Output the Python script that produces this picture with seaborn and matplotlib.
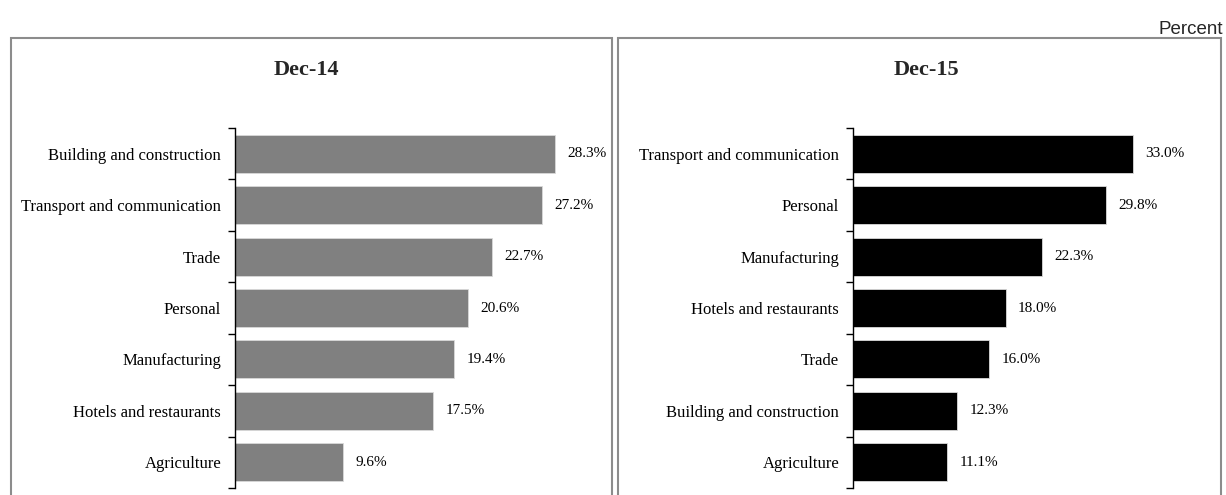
import numpy as np
import pandas as pd
import matplotlib
matplotlib.use("Agg")
import matplotlib.pyplot as plt
import seaborn as sns
from matplotlib.patches import Rectangle

# data
sectors_14 = ["Building and construction", "Transport and communication", "Trade",
              "Personal", "Manufacturing", "Hotels and restaurants", "Agriculture"]
values_14 = [28.3, 27.2, 22.7, 20.6, 19.4, 17.5, 9.6]

sectors_15 = ["Transport and communication", "Personal", "Manufacturing",
              "Hotels and restaurants", "Trade", "Building and construction", "Agriculture"]
values_15 = [33.0, 29.8, 22.3, 18.0, 16.0, 12.3, 11.1]

sns.set_theme(style="white")
plt.rcParams["font.family"] = ["Liberation Serif", "DejaVu Serif"]

W, H = 1226, 495
fig = plt.figure(figsize=(W / 100, H / 100), dpi=100)


def px_axes(x0, x1, y0, y1):
    return fig.add_axes([x0 / W, 1 - y1 / H, (x1 - x0) / W, (y1 - y0) / H])


def draw_panel(ax, cats, vals, color, xmax):
    df = pd.DataFrame({"sector": cats, "value": vals})
    sns.barplot(data=df, y="sector", x="value", orient="h", color=color,
                width=0.74, ax=ax, saturation=1, edgecolor="#d9d9d9", linewidth=0.6)
    ax.set_xlim(0, xmax)
    ax.set_ylim(len(cats) - 0.5, -0.5)
    ax.set_xlabel("")
    ax.set_ylabel("")
    ax.set_xticks([])
    for s in ["top", "right", "bottom"]:
        ax.spines[s].set_visible(False)
    ax.spines["left"].set_color("black")
    ax.spines["left"].set_linewidth(1.0)
    ax.tick_params(axis="y", which="major", length=0, pad=10, labelsize=12, colors="black")
    ax.set_yticks(np.arange(-0.5, len(cats)), minor=True)
    ax.tick_params(axis="y", which="minor", length=5, width=1.0, direction="out", color="black")
    ax.yaxis.set_tick_params(which="minor", left=True)
    for i, v in enumerate(vals):
        ax.annotate(f"{v:.1f}%", (v, i), xytext=(9, 0), textcoords="offset points",
                    va="center", ha="left", fontsize=11, color="black")
    ax.patch.set_alpha(0)


ax1 = px_axes(235, 600, 128, 488)
draw_panel(ax1, sectors_14, values_14, "#808080", 365 / 11.3)

ax2 = px_axes(853, 1215, 128, 488)
draw_panel(ax2, sectors_15, values_15, "black", 362 / 8.48)

# panel frames
for x0, x1 in [(11, 612), (618, 1221)]:
    fig.patches.append(Rectangle((x0 / W, -0.05), (x1 - x0) / W, 1.05 - 38 / H,
                                 transform=fig.transFigure, fill=False,
                                 edgecolor="#8c8c8c", linewidth=1.5, zorder=0))

fig.text(306 / W, 1 - 70 / H, "Dec-14", ha="center", va="center", fontsize=16, fontweight="bold")
fig.text(926 / W, 1 - 70 / H, "Dec-15", ha="center", va="center", fontsize=16, fontweight="bold")
fig.text(1223 / W, 1 - 29 / H, "Percent", ha="right", va="center", fontsize=13.5,
         family=["Liberation Sans", "DejaVu Sans"])

fig.savefig("out.png", dpi=100)
